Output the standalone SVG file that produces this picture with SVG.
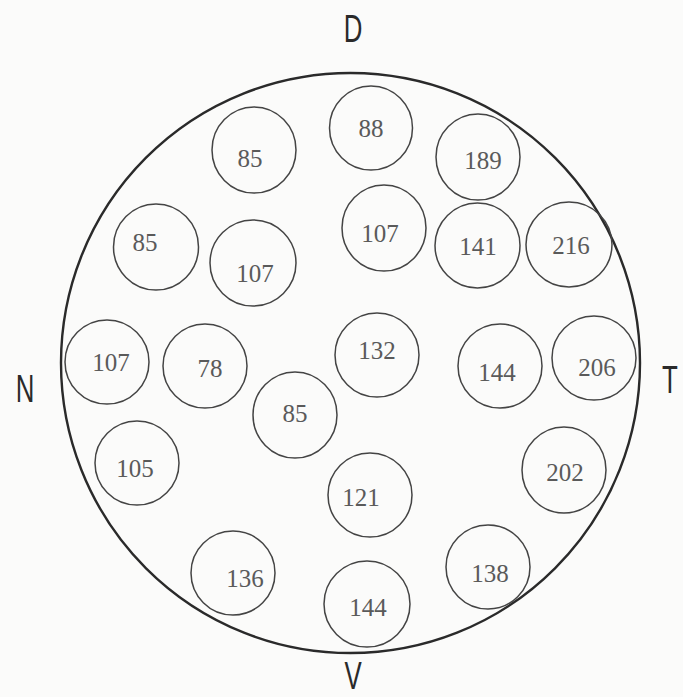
<svg xmlns="http://www.w3.org/2000/svg" width="683" height="697" viewBox="0 0 683 697">
<style>
.bg{fill:#fbfbfa}
.outer{fill:none;stroke:#2a2a2a;stroke-width:2.4}
.c{fill:none;stroke:#444;stroke-width:1.5}
.t{font-family:"Liberation Serif",serif;font-size:25px;fill:#5a5a5a;text-anchor:middle}
.d{font-family:"Liberation Sans",sans-serif;font-size:38px;fill:#2a2a2a;text-anchor:middle}
</style>
<rect class="bg" x="0" y="0" width="683" height="697"/>
<g id="field"><ellipse class="outer" cx="350.5" cy="363" rx="289.5" ry="290"/></g>
<g id="dirs">
<text class="d" transform="translate(353 42) scale(0.68 1)">D</text>
<text class="d" transform="translate(25 402) scale(0.68 1)">N</text>
<text class="d" transform="translate(670 393) scale(0.68 1)">T</text>
<text class="d" transform="translate(353 689) scale(0.68 1)">V</text>
</g>
<g id="n1"><ellipse class="c" cx="254" cy="150" rx="42" ry="43"/><text class="t" x="250" y="167">85</text></g>
<g id="n2"><ellipse class="c" cx="371" cy="128" rx="41.5" ry="42"/><text class="t" x="371" y="137">88</text></g>
<g id="n3"><ellipse class="c" cx="478" cy="157" rx="42" ry="43"/><text class="t" x="483" y="169">189</text></g>
<g id="n4"><ellipse class="c" cx="156" cy="247" rx="42.5" ry="43"/><text class="t" x="145" y="251">85</text></g>
<g id="n5"><ellipse class="c" cx="253" cy="263" rx="43" ry="43"/><text class="t" x="255" y="282">107</text></g>
<g id="n6"><ellipse class="c" cx="384" cy="228" rx="42" ry="43"/><text class="t" x="380" y="242">107</text></g>
<g id="n7"><ellipse class="c" cx="477.5" cy="245.5" rx="42.5" ry="42.5"/><text class="t" x="478" y="255">141</text></g>
<g id="n8"><ellipse class="c" cx="569" cy="244.5" rx="43" ry="42.5"/><text class="t" x="571" y="254">216</text></g>
<g id="n9"><ellipse class="c" cx="107" cy="362" rx="42" ry="42"/><text class="t" x="111" y="371">107</text></g>
<g id="n10"><ellipse class="c" cx="205" cy="366" rx="42" ry="42"/><text class="t" x="210" y="377">78</text></g>
<g id="n11"><ellipse class="c" cx="377" cy="355" rx="42" ry="42"/><text class="t" x="377" y="359">132</text></g>
<g id="n12"><ellipse class="c" cx="500" cy="366" rx="42" ry="42"/><text class="t" x="497" y="381">144</text></g>
<g id="n13"><ellipse class="c" cx="594" cy="358" rx="42" ry="42"/><text class="t" x="597" y="376">206</text></g>
<g id="n14"><ellipse class="c" cx="295" cy="415" rx="42" ry="43"/><text class="t" x="295" y="422">85</text></g>
<g id="n15"><ellipse class="c" cx="137" cy="463" rx="42" ry="42"/><text class="t" x="135" y="477">105</text></g>
<g id="n16"><ellipse class="c" cx="370" cy="495" rx="42" ry="42"/><text class="t" x="361" y="506">121</text></g>
<g id="n17"><ellipse class="c" cx="564" cy="470" rx="42" ry="43"/><text class="t" x="565" y="481">202</text></g>
<g id="n18"><ellipse class="c" cx="233" cy="573" rx="42" ry="42"/><text class="t" x="245" y="587">136</text></g>
<g id="n19"><ellipse class="c" cx="367" cy="604" rx="43" ry="43"/><text class="t" x="368" y="616">144</text></g>
<g id="n20"><ellipse class="c" cx="488" cy="567" rx="42" ry="42"/><text class="t" x="490" y="582">138</text></g>
</svg>
